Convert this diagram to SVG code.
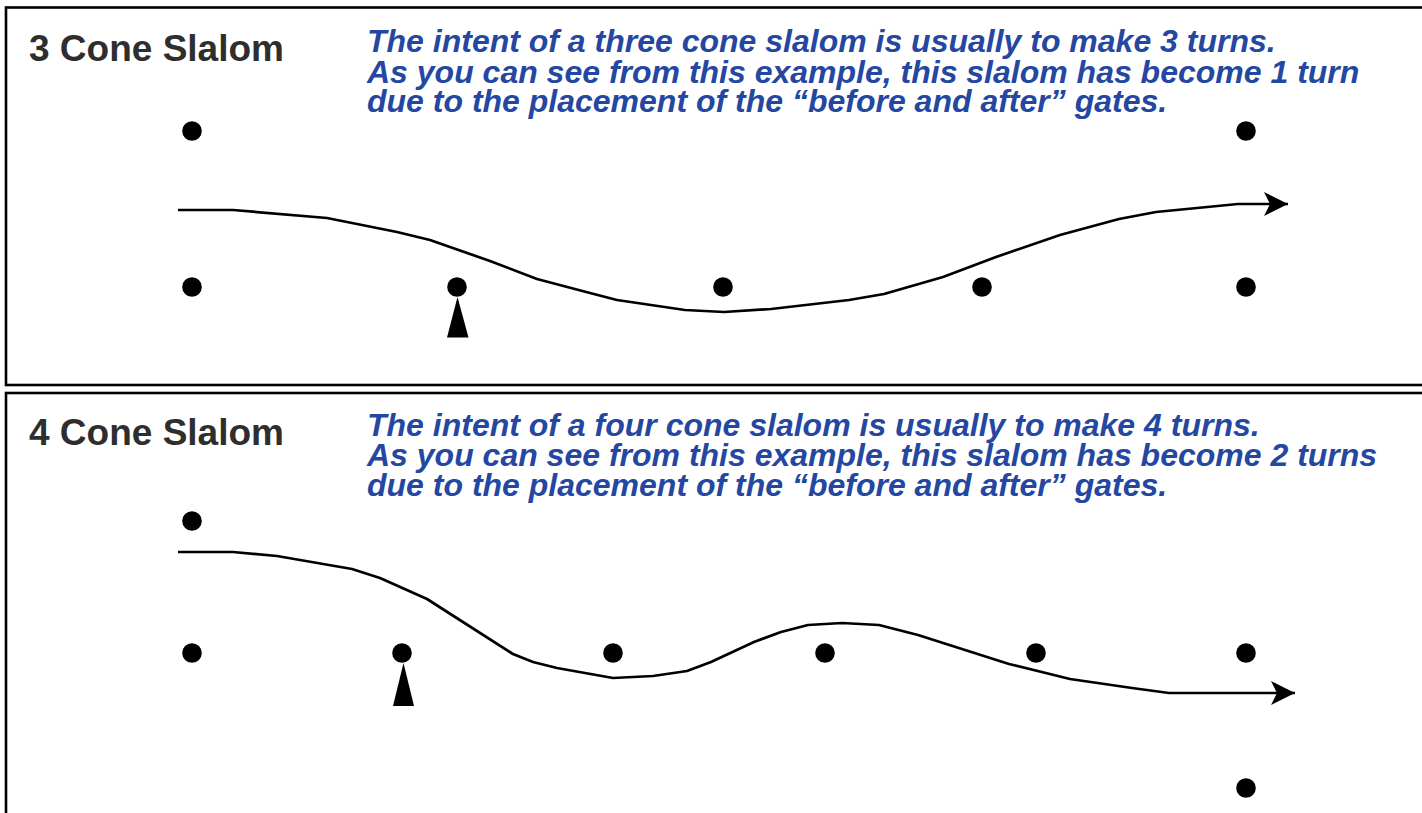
<svg xmlns="http://www.w3.org/2000/svg" width="1422" height="813" viewBox="0 0 1422 813">
<defs>
<style>
.frame{fill:none;stroke:#000;stroke-width:2.6}
.title{font-family:"Liberation Sans",Arial,sans-serif;font-weight:bold;font-size:37px;fill:#2e2e2e}
.note{font-family:"Liberation Sans",Arial,sans-serif;font-weight:bold;font-style:italic;font-size:32px;fill:#2447a2}
.cone{fill:#000}
.path{fill:none;stroke:#000;stroke-width:2.7;stroke-linejoin:round}
</style>
<marker id="arrow" viewBox="0 0 24 24" refX="24" refY="12" markerWidth="24" markerHeight="24" markerUnits="userSpaceOnUse" orient="auto">
<path d="M0,0 L24,12 L0,24 L6,12 Z" fill="#000"/>
</marker>
</defs>
<rect width="1422" height="813" fill="#fff"/>
<g id="panel-3-cone">
<rect class="frame" x="6" y="7.5" width="1430" height="377.5"/>
<text class="title" x="29" y="61">3 Cone Slalom</text>
<text class="note" x="367" y="52"><tspan x="367" y="52">The intent of a three cone slalom is usually to make 3 turns.</tspan><tspan x="367" y="82.5">As you can see from this example, this slalom has become 1 turn</tspan><tspan x="367" y="112">due to the placement of the “before and after” gates.</tspan></text>
</g>
<g id="cones-3">
<circle class="cone" cx="192" cy="131" r="9.8"/>
<circle class="cone" cx="1246" cy="131" r="9.8"/>
<circle class="cone" cx="192" cy="287" r="9.8"/>
<circle class="cone" cx="457" cy="287" r="9.8"/>
<circle class="cone" cx="723" cy="287" r="9.8"/>
<circle class="cone" cx="982" cy="287" r="9.8"/>
<circle class="cone" cx="1246" cy="287" r="9.8"/>
<polygon class="cone" points="457.5,297 447,337.5 468.5,337.5"/>
</g>
<g id="panel-4-cone">
<rect class="frame" x="6" y="393" width="1430" height="440"/>
<text class="title" x="29" y="445">4 Cone Slalom</text>
<text class="note" x="367" y="436"><tspan x="367" y="436">The intent of a four cone slalom is usually to make 4 turns.</tspan><tspan x="367" y="466">As you can see from this example, this slalom has become 2 turns</tspan><tspan x="367" y="496">due to the placement of the “before and after” gates.</tspan></text>
</g>
<g id="cones-4">
<circle class="cone" cx="192" cy="521" r="9.8"/>
<circle class="cone" cx="192" cy="653" r="9.8"/>
<circle class="cone" cx="402" cy="653" r="9.8"/>
<circle class="cone" cx="613" cy="653" r="9.8"/>
<circle class="cone" cx="825" cy="653" r="9.8"/>
<circle class="cone" cx="1036" cy="653" r="9.8"/>
<circle class="cone" cx="1246" cy="653" r="9.8"/>
<circle class="cone" cx="1246" cy="788" r="9.8"/>
<polygon class="cone" points="403.5,663 393,706 414,706"/>
</g>
<g id="connectors">
<path class="path" marker-end="url(#arrow)" d="M178,210 L233,210 L327,218 L397,232 L430,240 L490,261 L537,279 L590,293 L617,300 L685,310 L724,312 L771,309 L849,300 L884,294 L943,277 L996,257 L1060,235 L1119,219 L1156,212 L1238,204 L1288,204"/>
<path class="path" marker-end="url(#arrow)" d="M178,552 L233,552 L277,556 L352,569 L380,578 L427,599 L513,654 L533,662 L557,668 L613,678 L653,676 L687,671 L711,662 L754,642 L781,632 L808,625 L842,623 L879,625 L918,635 L1009,664 L1070,679 L1132,688 L1169,693 L1295,693"/>
</g>
</svg>
